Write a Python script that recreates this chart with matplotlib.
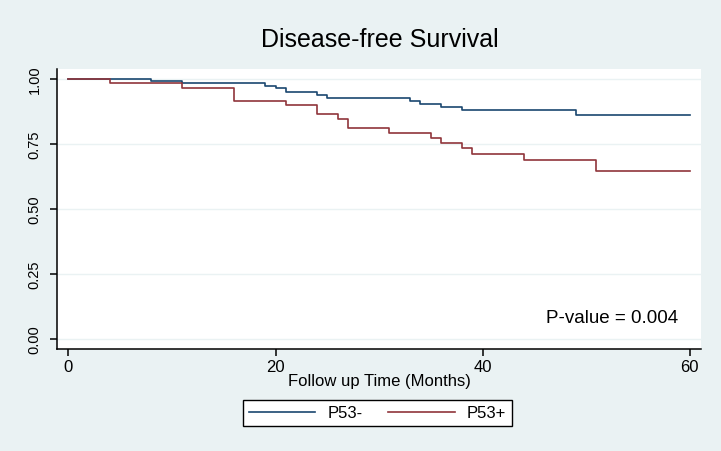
import numpy as np
import matplotlib
matplotlib.use("Agg")
import matplotlib.pyplot as plt

# Kaplan-Meier step values
months_neg = [0, 8, 11, 19, 20, 21, 24, 25, 33, 34, 36, 38, 49, 60]
surv_neg = [1.0, 0.992, 0.983, 0.975, 0.966, 0.951, 0.937, 0.926, 0.915, 0.905, 0.893, 0.882, 0.860, 0.860]

months_pos = [0, 4, 11, 16, 21, 24, 26, 27, 31, 35, 36, 38, 39, 44, 51, 60]
surv_pos = [1.0, 0.985, 0.966, 0.915, 0.899, 0.864, 0.845, 0.810, 0.793, 0.774, 0.752, 0.733, 0.713, 0.687, 0.646, 0.646]

x_ticks = [0, 20, 40, 60]
y_ticks = [0.0, 0.25, 0.50, 0.75, 1.0]
y_labels = ["0.00", "0.25", "0.50", "0.75", "1.00"]

bg = "#eaf2f3"
navy = "#1a476f"
maroon = "#90353b"

plt.rcParams['font.family'] = ['Liberation Sans', 'DejaVu Sans']

fig = plt.figure(figsize=(7.21, 4.52), dpi=100, facecolor=bg)
ax = fig.add_axes([57 / 721, 102 / 452, 644 / 721, 280 / 452])
ax.set_facecolor("white")

ax.plot(months_neg, surv_neg, drawstyle="steps-post", color=navy, lw=1.2, label="P53-")
ax.plot(months_pos, surv_pos, drawstyle="steps-post", color=maroon, lw=1.2, label="P53+")

ax.set_xlim(-1.11, 61.1)
ax.set_ylim(-0.0385, 1.0385)
ax.set_xticks(x_ticks)
ax.set_yticks(y_ticks)
ax.set_yticklabels(y_labels)
ax.grid(axis="y", color=bg, lw=1.0)
ax.set_axisbelow(True)

for side in ["top", "right"]:
    ax.spines[side].set_visible(False)
for side in ["left", "bottom"]:
    ax.spines[side].set_color("black")
    ax.spines[side].set_linewidth(1.1)

ax.tick_params(axis="x", length=5, width=1.1, labelsize=12, pad=2.5)
ax.tick_params(axis="y", length=5, width=1.1, labelsize=10.5, pad=6)
plt.setp(ax.get_yticklabels(), rotation=90, va="center")

ax.text(58.9, 0.081, "P-value = 0.004", ha="right", va="center", fontsize=13.5)

fig.text(380 / 721, (452 - 40) / 452, "Disease-free Survival", ha="center", va="center", fontsize=18)
fig.text(379 / 721, (452 - 382) / 452, "Follow up Time (Months)", ha="center", va="center", fontsize=12)

leg = fig.legend(loc="center", bbox_to_anchor=(377.5 / 721, (452 - 414) / 452), ncol=2,
                 fontsize=12, frameon=True, fancybox=False, framealpha=1,
                 edgecolor="black", handlelength=4.0, handletextpad=0.72,
                 columnspacing=1.56, borderpad=0.35)
leg.get_frame().set_linewidth(1.0)

fig.savefig("out.png", dpi=100, facecolor=bg)
